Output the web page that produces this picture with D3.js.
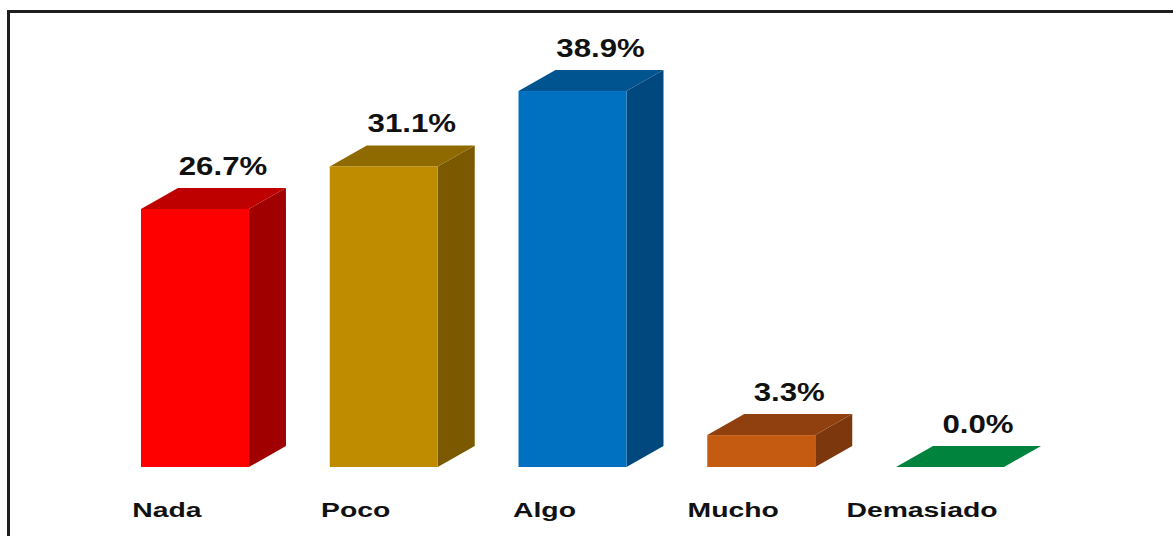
<!DOCTYPE html>
<html>
<head>
<meta charset="utf-8">
<script src="https://cdn.jsdelivr.net/npm/d3@7"></script>
<style>
  body { margin: 0; background: #fff; }
  svg { display: block; }
  text { font-family: "Liberation Sans", Arial, sans-serif; font-weight: bold; fill: #111; }
</style>
</head>
<body>
<svg id="chart" width="1173" height="536"></svg>
<script>
const categories = ['Nada', 'Poco', 'Algo', 'Mucho', 'Demasiado'];
const values = [26.7, 31.1, 38.9, 3.3, 0.0];
const valueLabels = ['26.7%', '31.1%', '38.9%', '3.3%', '0.0%'];
const frontColors = ['#ff0000', '#bf8c00', '#0070c0', '#c55a11', '#00843d'];
const topColors = ['#be0000', '#8f6a00', '#00548f', '#8f400e', '#00843d'];
const sideColors = ['#a00000', '#7a5900', '#00487d', '#7c380c', '#00843d'];

const width = 1173, height = 536;
const svg = d3.select('#chart');

// frame (only left and top edges are inside the picture)
svg.append('rect')
    .attr('x', 8.5).attr('y', 11.5)
    .attr('width', 1300).attr('height', 700)
    .attr('fill', 'none')
    .attr('stroke', '#1e1e1e')
    .attr('stroke-width', 3);

const x = d3.scaleBand()
    .domain(categories)
    .range([100.6, 1044.4])
    .paddingInner(0.428)
    .paddingOuter(0.214);

const y = d3.scaleLinear()
    .domain([0, 40])
    .range([467, 80.4]);

// depth of the 3D effect
const dx = 37, dy = 21;
const bw = x.bandwidth();

const data = categories.map((c, i) => ({
    cat: c, value: values[i], label: valueLabels[i],
    front: frontColors[i], top: topColors[i], side: sideColors[i]
}));

const bars = svg.append('g').selectAll('g')
    .data(data)
    .join('g');

// side face
bars.append('path')
    .attr('fill', d => d.side)
    .attr('d', d => {
        const x0 = x(d.cat) + bw, yt = y(d.value), yb = y(0);
        return `M${x0},${yt}L${x0 + dx},${yt - dy}L${x0 + dx},${yb - dy}L${x0},${yb}Z`;
    });

// top face
bars.append('path')
    .attr('fill', d => d.top)
    .attr('d', d => {
        const x0 = x(d.cat), yt = y(d.value);
        return `M${x0},${yt}L${x0 + bw},${yt}L${x0 + bw + dx},${yt - dy}L${x0 + dx},${yt - dy}Z`;
    });

// front face
bars.append('rect')
    .attr('x', d => x(d.cat))
    .attr('y', d => y(d.value))
    .attr('width', bw)
    .attr('height', d => y(0) - y(d.value))
    .attr('fill', d => d.front);

// value labels
bars.append('text')
    .attr('transform', d => `translate(${x(d.cat) + bw / 2 + 28},${y(d.value) - dy - 13}) scale(1.2,1)`)
    .attr('text-anchor', 'middle')
    .attr('font-size', 26)
    .text(d => d.label);

// category labels
svg.append('g').selectAll('text')
    .data(categories)
    .join('text')
    .attr('transform', d => `translate(${x(d) + bw / 2 - 28},517) scale(1.35,1)`)
    .attr('text-anchor', 'middle')
    .attr('font-size', 21)
    .text(d => d);
</script>
</body>
</html>
